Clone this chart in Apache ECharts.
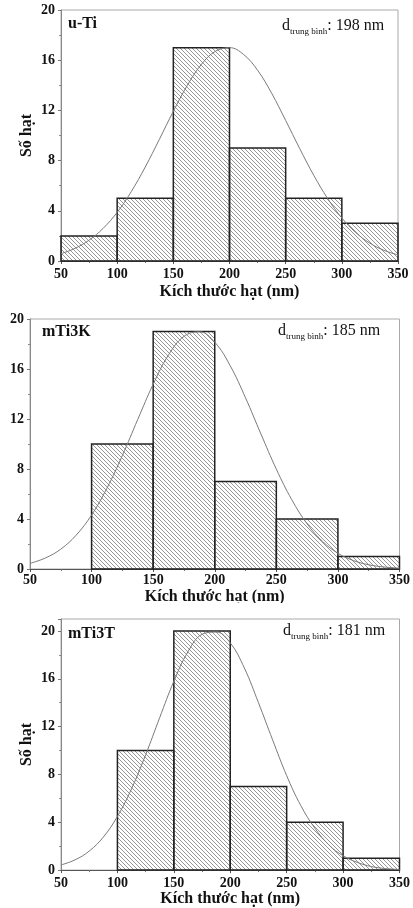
<!DOCTYPE html>
<html>
<head>
<meta charset="utf-8">
<script src="https://cdn.jsdelivr.net/npm/echarts@6/dist/echarts.min.js"></script>
<style>
  html, body { margin: 0; padding: 0; background: #fff; }
  #chart { width: 413px; height: 908px; }
</style>
</head>
<body>
<div id="chart"></div>
<script>
// bins (nm) and counts
const binEdges = [50, 100, 150, 200, 250, 300, 350]
const countsUTi = [2, 5, 17, 9, 5, 3]
const countsK = [0, 10, 19, 7, 4, 1]
const countsT = [0, 10, 20, 7, 4, 1]

// fitted curve, read at every 12.5 nm
const curveX = [50, 62.5, 75, 87.5, 100, 112.5, 125, 137.5, 150, 162.5, 175, 187.5, 200,
  212.5, 225, 237.5, 250, 262.5, 275, 287.5, 300, 312.5, 325, 337.5, 350]
const curveUTi = [0.58, 1.01, 1.66, 2.6, 3.88, 5.52, 7.49, 9.68, 11.93, 14.0, 15.67, 16.71, 17.0,
  16.46, 15.2, 13.37, 11.2, 8.96, 6.83, 4.96, 3.43, 2.26, 1.42, 0.85, 0.49]
const curveK = [0.45, 0.88, 1.59, 2.71, 4.32, 6.47, 9.08, 11.97, 14.78, 17.13, 18.61, 18.98, 18.14,
  16.27, 13.69, 10.8, 7.99, 5.55, 3.61, 2.21, 1.26, 0.68, 0.34, 0.16, 0.07]
const curveT = [0.43, 0.86, 1.59, 2.76, 4.49, 6.8, 9.64, 12.76, 15.79, 18.26, 19.72, 19.91, 19.0,
  16.9, 14.0, 10.9, 7.9, 5.4, 3.5, 2.1, 1.2, 0.65, 0.3, 0.13, 0.05]

const xTicks = [50, 100, 150, 200, 250, 300, 350]
const yTicks = [0, 4, 8, 12, 16, 20]

const sampleNames = ['u-Ti', 'mTi3K', 'mTi3T']
const meanSizes = [198, 185, 181]

// hatch pattern "\\\\"
const hatch = document.createElement('canvas')
hatch.width = 4
hatch.height = 4
const hc = hatch.getContext('2d')
hc.strokeStyle = '#7a7a7a'
hc.lineWidth = 0.8
hc.beginPath()
hc.moveTo(-1, -1); hc.lineTo(5, 5)
hc.moveTo(3, -1); hc.lineTo(5, 1)
hc.moveTo(-1, 3); hc.lineTo(1, 5)
hc.stroke()

const serif = 'Liberation Serif'

// layout of the three panels
const panels = [
  { left: 61, right: 15, top: 10, height: 251, yMax: 20, labelMargin: 6, nameGap: 23, yName: 'Số hạt', counts: countsUTi, curve: curveUTi },
  { left: 30, right: 13, top: 319, height: 250, yMax: 20, labelMargin: 4, nameGap: 20, yName: '', counts: countsK, curve: curveK },
  { left: 61, right: 13, top: 619, height: 253, yMax: 21, labelMargin: 6, nameGap: 18, yName: 'Số hạt', counts: countsT, curve: curveT }
]

const grid = [], xAxis = [], yAxis = [], series = []

panels.forEach((p, i) => {
  grid.push({
    left: p.left, right: p.right, top: p.top, height: p.height,
    show: true, borderColor: '#aaa', borderWidth: 1, backgroundColor: 'transparent'
  })
  xAxis.push({
    type: 'value', gridIndex: i, min: xTicks[0], max: xTicks[xTicks.length - 1], interval: 50,
    name: 'Kích thước hạt (nm)', nameLocation: 'middle', nameGap: p.nameGap,
    nameTextStyle: { fontFamily: serif, fontWeight: 'bold', fontSize: 16, color: '#111' },
    axisLine: { show: true, onZero: false, lineStyle: { color: '#555', width: 1 } },
    axisTick: { show: true, length: 3, lineStyle: { color: '#555' } },
    minorTick: { show: true, splitNumber: 2, length: 2, lineStyle: { color: '#777' } },
    splitLine: { show: false },
    axisLabel: { fontFamily: serif, fontWeight: 'bold', fontSize: 14, color: '#111', margin: p.labelMargin }
  })
  yAxis.push({
    type: 'value', gridIndex: i, min: 0, max: p.yMax, interval: 4,
    name: p.yName, nameLocation: 'middle', nameGap: 26, nameRotate: 90, nameMoveOverlap: false,
    nameTextStyle: { fontFamily: serif, fontWeight: 'bold', fontSize: 16, color: '#111' },
    axisLine: { show: true, onZero: false, lineStyle: { color: '#888', width: 1 } },
    axisTick: { show: true, length: 3, lineStyle: { color: '#777' } },
    minorTick: { show: true, splitNumber: 2, length: 2, lineStyle: { color: '#888' } },
    splitLine: { show: false },
    axisLabel: {
      fontFamily: serif, fontWeight: 'bold', fontSize: 14, color: '#111', margin: 6,
      formatter: v => (yTicks.indexOf(v) >= 0 ? v : '')
    }
  })
  series.push({
    type: 'custom', xAxisIndex: i, yAxisIndex: i, z: 2,
    data: p.counts.map((c, k) => [binEdges[k], binEdges[k + 1], c]),
    renderItem: function (params, api) {
      const h = api.value(2)
      if (!h) return null
      const a = api.coord([api.value(0), h])
      const b = api.coord([api.value(1), 0])
      return {
        type: 'rect',
        shape: { x: a[0], y: a[1], width: b[0] - a[0], height: b[1] - a[1] },
        style: { fill: { image: hatch, repeat: 'repeat' }, stroke: '#222', lineWidth: 1.5 }
      }
    }
  })
  series.push({
    type: 'line', xAxisIndex: i, yAxisIndex: i, z: 3,
    data: curveX.map((x, k) => [x, p.curve[k]]),
    smooth: 0.4, symbol: 'none', silent: true,
    lineStyle: { color: '#7a7a7a', width: 1 }
  })
})

const labelPos = [
  { nx: 68, ny: 16, dx: 282, dy: 18 },
  { nx: 42, ny: 324, dx: 278, dy: 323 },
  { nx: 68, ny: 626, dx: 283, dy: 623 }
]

const graphic = []
labelPos.forEach((g, i) => {
  graphic.push({
    type: 'text', left: g.nx, top: g.ny, z: 10,
    style: { text: sampleNames[i], font: 'bold 16px "Liberation Serif"', fill: '#111' }
  })
  graphic.push({
    type: 'text', left: g.dx, top: g.dy, z: 10,
    style: {
      text: '{d|d}{s|trung bình}{d|: ' + meanSizes[i] + ' nm}',
      rich: {
        d: { fontFamily: serif, fontSize: 16, fill: '#111', color: '#111', verticalAlign: 'bottom' },
        s: { fontFamily: serif, fontSize: 9, fill: '#111', color: '#111', verticalAlign: 'bottom', padding: [0, 0, -2, 0] }
      }
    }
  })
})
// the middle panel's axis title is cut off by the panel below
graphic.push({ type: 'rect', left: 0, top: 603, z: 20, shape: { width: 413, height: 12 }, style: { fill: '#fff' } })

const chart = echarts.init(document.getElementById('chart'), null, { renderer: 'canvas' })
chart.setOption({
  animation: false,
  backgroundColor: '#fff',
  grid: grid,
  xAxis: xAxis,
  yAxis: yAxis,
  series: series,
  graphic: graphic
})
</script>
</body>
</html>
